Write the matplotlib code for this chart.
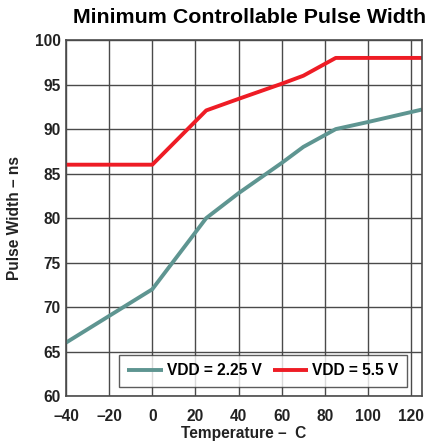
import matplotlib
matplotlib.use("Agg")
import matplotlib.pyplot as plt

plt.rcParams['font.family'] = ['Liberation Sans', 'DejaVu Sans']

# temperatur (C) og pulsbredde (ns)
temp_lav = [-40, -20, 0, 25, 40, 60, 70, 85, 100, 125]
vdd_225 = [66, 69, 72, 80, 82.8, 86.2, 88, 90, 90.8, 92.2]

temp_hoy = [-40, 0, 25, 40, 60, 70, 85, 125]
vdd_55 = [86, 86, 92.1, 93.4, 95.1, 96, 98, 98]

xticks = [-40, -20, 0, 20, 40, 60, 80, 100, 120]
xtick_tekst = ["\u201340", "\u201320", "0", "20", "40", "60", "80", "100", "120"]
yticks = [60, 65, 70, 75, 80, 85, 90, 95, 100]

fig = plt.figure(figsize=(4.29, 4.41), dpi=100)
ax = fig.add_axes([0.1538, 0.102, 0.83, 0.807])

ax.plot(temp_lav, vdd_225, color="#5E9591", lw=2.8, label="VDD = 2.25 V", solid_capstyle="butt")
ax.plot(temp_hoy, vdd_55, color="#EE1C25", lw=2.8, label="VDD = 5.5 V", solid_capstyle="butt")

ax.set_xlim(-40, 125)
ax.set_ylim(60, 100)
ax.set_xticks(xticks)
ax.set_xticklabels(xtick_tekst)
ax.set_yticks(yticks)
ax.grid(True, color="#4a4a4a", lw=1.0)
ax.set_axisbelow(True)
for s in ax.spines.values():
    s.set_color("#4a4a4a")
    s.set_linewidth(1.2)
ax.tick_params(axis="x", length=0, pad=9, labelsize=11.2, colors="#222222")
ax.tick_params(axis="y", length=0, pad=4, labelsize=11.2, colors="#222222")
for t in ax.get_xticklabels() + ax.get_yticklabels():
    t.set_fontweight("bold")

ax.set_xlabel("Temperature \u2013  C", fontsize=11.2, fontweight="bold", labelpad=2, color="#222222")
ax.set_ylabel("Pulse Width \u2013 ns", fontsize=11.2, fontweight="bold", labelpad=9, color="#222222")
fig.text(0.582, 0.961, "Minimum Controllable Pulse Width", ha="center", va="center",
         fontsize=15.4, fontweight="bold")

leg = ax.legend(loc="lower right", ncol=2, bbox_to_anchor=(0.958, 0.026), borderaxespad=0,
                fontsize=11.2, frameon=True, fancybox=False, edgecolor="#333333",
                handlelength=2.3, columnspacing=0.7, handletextpad=0.25, borderpad=0.55)
leg.get_frame().set_linewidth(1.0)
for t in leg.get_texts():
    t.set_fontweight("bold")

fig.savefig("out.png", dpi=100)
